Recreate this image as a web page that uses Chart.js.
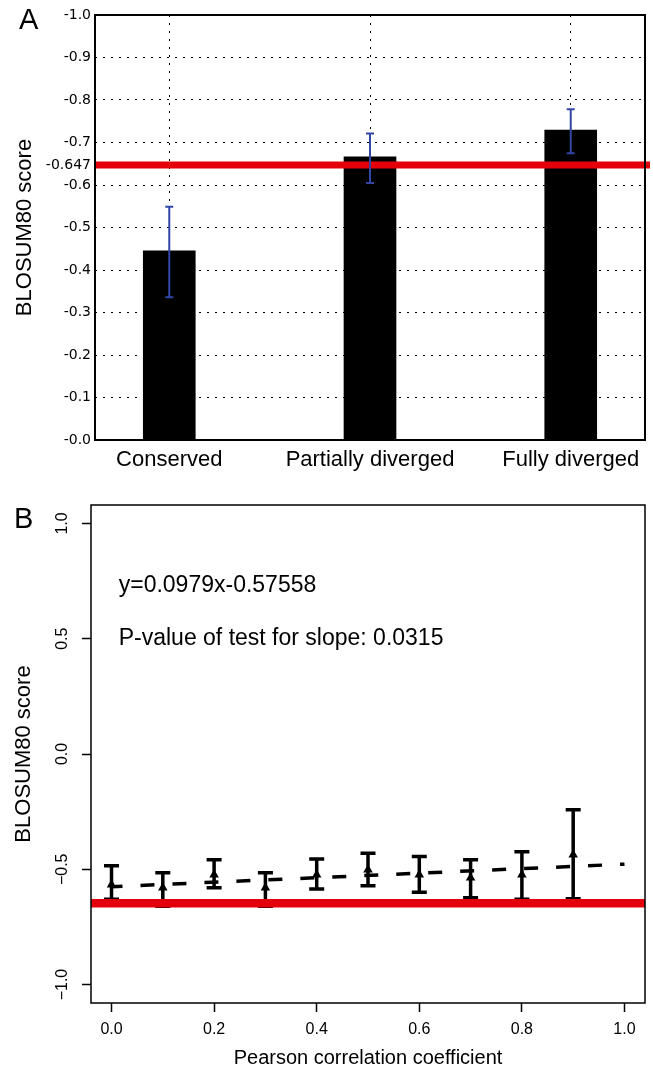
<!DOCTYPE html>
<html>
<head>
<meta charset="utf-8">
<script src="https://cdn.jsdelivr.net/npm/chart.js@4.4.0/dist/chart.umd.min.js"></script>
<style>
  body { margin: 0; background: #fff; }
  #wrap { position: relative; width: 653px; height: 1072px; background: #fff; }
  canvas { position: absolute; left: 0; }
  .panel { position: absolute; font-family: 'Liberation Sans', Arial, sans-serif; font-size: 29px; color: #000; line-height: 1; }
</style>
</head>
<body>
<div id="wrap">
  <canvas id="chartA" width="653" height="490" style="top:0"></canvas>
  <canvas id="chartB" width="653" height="582" style="top:490px"></canvas>
  <div class="panel" style="left:19px;top:5px">A</div>
  <div class="panel" style="left:14px;top:504px">B</div>
</div>
<script>
// --- Panel A: mean BLOSUM80 score per group ---
const categoriesA = ['Conserved', 'Partially diverged', 'Fully diverged'];
const positionsA = [0, 1, 2];
const meansA = [-0.445, -0.666, -0.729];
const errLowA = [-0.336, -0.605, -0.675];
const errHighA = [-0.549, -0.721, -0.778];
const yTicksA = [0, -0.1, -0.2, -0.3, -0.4, -0.5, -0.6, -0.7, -0.8, -0.9, -1.0];
const refScore = -0.647;

// --- Panel B: score vs Pearson correlation ---
const pearsonX = [0, 0.1, 0.2, 0.3, 0.4, 0.5, 0.6, 0.7, 0.8, 0.9];
const meansB = [-0.567, -0.58, -0.524, -0.58, -0.524, -0.502, -0.524, -0.537, -0.524, -0.437];
const errLowB = [-0.63, -0.66, -0.58, -0.66, -0.585, -0.571, -0.6, -0.623, -0.63, -0.628];
const errHighB = [-0.485, -0.515, -0.459, -0.515, -0.455, -0.43, -0.445, -0.459, -0.424, -0.242];
const fitX = [0, 1];
const fitY = [-0.5756, -0.4777];
const xTicksB = [0, 0.2, 0.4, 0.6, 0.8, 1.0];
const yTicksB = [-1, -0.5, 0, 0.5, 1];
const notesB = ['y=0.0979x-0.57558', 'P-value of test for slope: 0.0315'];
const notesY = [0.73, 0.5];

const SANS = "'Liberation Sans', Arial, sans-serif";
const DEJAVU = "'DejaVu Sans', sans-serif";
const RED = '#e3000b';

// bar chart with error bars (A)
const panelAPlugin = {
  id: 'panelA',
  afterDatasetsDraw(chart) {
    const { ctx, chartArea, scales: { x, y } } = chart;
    ctx.save();
    const ry = y.getPixelForValue(refScore);
    ctx.strokeStyle = RED;
    ctx.lineWidth = 7;
    ctx.beginPath();
    ctx.moveTo(chartArea.left, ry);
    ctx.lineTo(chartArea.right + 5, ry);
    ctx.stroke();

    ctx.strokeStyle = '#3346a6';
    ctx.lineWidth = 2;
    positionsA.forEach((p, i) => {
      const px = x.getPixelForValue(p);
      const y1 = y.getPixelForValue(errLowA[i]);
      const y2 = y.getPixelForValue(errHighA[i]);
      ctx.beginPath();
      ctx.moveTo(px, y1); ctx.lineTo(px, y2);
      ctx.moveTo(px - 4, y1); ctx.lineTo(px + 4, y1);
      ctx.moveTo(px - 4, y2); ctx.lineTo(px + 4, y2);
      ctx.stroke();
    });
    ctx.restore();
  },
  afterDraw(chart) {
    const { ctx, chartArea: a } = chart;
    ctx.save();
    ctx.strokeStyle = '#000';
    ctx.lineWidth = 2;
    ctx.strokeRect(a.left, a.top, a.right - a.left, a.bottom - a.top);
    ctx.restore();
  }
};

new Chart(document.getElementById('chartA'), {
  type: 'bar',
  data: {
    datasets: [{
      data: positionsA.map((p, i) => ({ x: p, y: meansA[i] })),
      backgroundColor: '#000',
      borderWidth: 0,
      barThickness: 52
    }]
  },
  options: {
    responsive: false,
    animation: false,
    layout: { padding: { top: 15, right: 8, left: 0, bottom: 0 } },
    plugins: { legend: { display: false }, tooltip: { enabled: false } },
    scales: {
      x: {
        type: 'linear',
        min: -0.37,
        max: 2.37,
        offset: false,
        z: 1,
        afterBuildTicks: s => { s.ticks = positionsA.map(v => ({ value: v })); },
        afterFit: s => { s.height = 50; },
        border: { display: false, dash: [2, 6] },
        grid: { offset: false, color: '#000', lineWidth: 1, drawTicks: false },
        ticks: {
          padding: 7,
          color: '#000',
          font: { family: SANS, size: 22 },
          callback: v => categoriesA[v]
        }
      },
      y: {
        type: 'linear',
        reverse: true,
        min: -1,
        max: 0,
        z: 1,
        afterBuildTicks: s => { s.ticks = yTicksA.concat([refScore]).map(v => ({ value: v })); },
        afterFit: s => { s.width = 95; },
        border: { display: false, dash: [2, 6] },
        grid: { color: '#000', lineWidth: 1, drawTicks: false },
        ticks: {
          padding: 4,
          color: '#000',
          font: { family: DEJAVU, size: 14 },
          callback: v => v === refScore ? '-0.647' : (v === 0 ? '-0.0' : v.toFixed(1))
        },
        title: {
          display: true,
          text: 'BLOSUM80 score',
          color: '#000',
          font: { family: SANS, size: 22 },
          padding: { top: 12, bottom: 0 }
        }
      }
    }
  },
  plugins: [panelAPlugin]
});

// scatter with error bars and regression line (B)
const panelBPlugin = {
  id: 'panelB',
  afterDatasetsDraw(chart) {
    const { ctx, chartArea, scales: { x, y } } = chart;
    ctx.save();
    ctx.strokeStyle = '#000';
    ctx.lineWidth = 3.5;
    pearsonX.forEach((p, i) => {
      const px = x.getPixelForValue(p);
      const y1 = y.getPixelForValue(errLowB[i]);
      const y2 = y.getPixelForValue(errHighB[i]);
      ctx.beginPath();
      ctx.moveTo(px, y1); ctx.lineTo(px, y2);
      ctx.moveTo(px - 7.5, y1); ctx.lineTo(px + 7.5, y1);
      ctx.moveTo(px - 7.5, y2); ctx.lineTo(px + 7.5, y2);
      ctx.stroke();
    });
    const ry = y.getPixelForValue(refScore);
    ctx.strokeStyle = RED;
    ctx.lineWidth = 8.5;
    ctx.beginPath();
    ctx.moveTo(chartArea.left, ry);
    ctx.lineTo(chartArea.right, ry);
    ctx.stroke();
    ctx.restore();
  },
  afterDraw(chart) {
    const { ctx, chartArea: a, scales: { x, y } } = chart;
    ctx.save();
    ctx.strokeStyle = '#000';
    ctx.lineWidth = 1.5;
    ctx.strokeRect(a.left, a.top, a.right - a.left, a.bottom - a.top);

    // rotated y tick labels, R style
    ctx.fillStyle = '#000';
    ctx.font = '16px ' + SANS;
    ctx.textAlign = 'center';
    ctx.textBaseline = 'middle';
    yTicksB.forEach(v => {
      ctx.save();
      ctx.translate(63, y.getPixelForValue(v));
      ctx.rotate(-Math.PI / 2);
      ctx.fillText(v.toFixed(1).replace('-', '\u2212'), 0, 0);
      ctx.restore();
    });

    ctx.font = '23px ' + SANS;
    ctx.textAlign = 'left';
    notesB.forEach((t, i) => {
      ctx.fillText(t, x.getPixelForValue(0.014), y.getPixelForValue(notesY[i]));
    });
    ctx.restore();
  }
};

new Chart(document.getElementById('chartB'), {
  type: 'scatter',
  data: {
    datasets: [
      {
        data: pearsonX.map((p, i) => ({ x: p, y: meansB[i] })),
        pointStyle: 'triangle',
        pointRadius: 5.5,
        backgroundColor: '#000',
        borderColor: '#000',
        borderWidth: 0
      },
      {
        type: 'line',
        data: fitX.map((p, i) => ({ x: p, y: fitY[i] })),
        borderColor: '#000',
        borderWidth: 3.5,
        borderDash: [14, 18],
        borderDashOffset: 3,
        pointRadius: 0,
        fill: false
      }
    ]
  },
  options: {
    responsive: false,
    animation: false,
    layout: { padding: { top: 15, right: 8, left: 0, bottom: 0 } },
    plugins: { legend: { display: false }, tooltip: { enabled: false } },
    scales: {
      x: {
        type: 'linear',
        min: -0.04,
        max: 1.04,
        afterBuildTicks: s => { s.ticks = xTicksB.map(v => ({ value: v })); },
        afterFit: s => { s.height = 69; },
        border: { display: false },
        grid: { drawOnChartArea: false, drawTicks: true, tickLength: 9, tickColor: '#000', tickWidth: 1.5 },
        ticks: {
          padding: 8,
          color: '#000',
          font: { family: SANS, size: 16 },
          callback: v => v.toFixed(1)
        },
        title: {
          display: true,
          text: 'Pearson correlation coefficient',
          color: '#000',
          font: { family: SANS, size: 20 },
          padding: { top: 0, bottom: 2 }
        }
      },
      y: {
        type: 'linear',
        min: -1.08,
        max: 1.08,
        afterBuildTicks: s => { s.ticks = yTicksB.map(v => ({ value: v })); },
        afterFit: s => { s.width = 91; },
        border: { display: false },
        grid: { drawOnChartArea: false, drawTicks: true, tickLength: 9, tickColor: '#000', tickWidth: 1.5 },
        ticks: { display: false },
        title: {
          display: true,
          text: 'BLOSUM80 score',
          color: '#000',
          font: { family: SANS, size: 22 },
          padding: { top: 11, bottom: 0 }
        }
      }
    }
  },
  plugins: [panelBPlugin]
});
</script>
</body>
</html>
